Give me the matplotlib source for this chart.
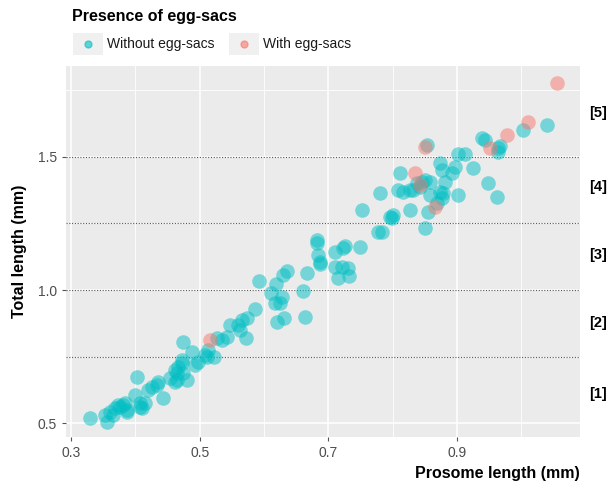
import matplotlib
matplotlib.use("Agg")
import matplotlib.pyplot as plt
from matplotlib.patches import Rectangle
from matplotlib.lines import Line2D

plt.rcParams['font.family'] = ['Liberation Sans', 'DejaVu Sans']

# Without egg-sacs
without_x = [0.330, 0.353, 0.356, 0.361, 0.365, 0.368, 0.373, 0.376, 0.381, 0.384,
             0.387, 0.387, 0.399, 0.403, 0.407, 0.407, 0.410, 0.415, 0.420, 0.426,
             0.434, 0.435, 0.443, 0.454, 0.462, 0.465, 0.466, 0.472, 0.472, 0.474,
             0.480, 0.465, 0.462, 0.474, 0.488, 0.493, 0.497, 0.508, 0.511, 0.513,
             0.522, 0.527, 0.535, 0.542, 0.547, 0.560, 0.563, 0.566, 0.573, 0.572,
             0.586, 0.592, 0.611, 0.619, 0.617, 0.625, 0.628, 0.629, 0.636, 0.620,
             0.631, 0.661, 0.664, 0.667, 0.687, 0.710, 0.721, 0.730, 0.715, 0.732,
             0.682, 0.682, 0.684, 0.687, 0.710, 0.723, 0.726, 0.749, 0.752, 0.777,
             0.783, 0.796, 0.800, 0.780, 0.811, 0.808, 0.816, 0.827, 0.838, 0.845,
             0.850, 0.858, 0.842, 0.827, 0.850, 0.855, 0.858, 0.869, 0.877, 0.873,
             0.878, 0.881, 0.873, 0.876, 0.892, 0.897, 0.901, 0.901, 0.912, 0.925,
             0.853, 0.939, 0.943, 0.964, 0.967, 0.964, 0.948, 0.962, 1.002, 1.040,
             0.831, 0.799]
without_y = [0.520, 0.531, 0.505, 0.542, 0.531, 0.557, 0.569, 0.561, 0.569, 0.576,
             0.542, 0.550, 0.606, 0.674, 0.576, 0.561, 0.557, 0.576, 0.625, 0.636,
             0.644, 0.655, 0.595, 0.670, 0.700, 0.689, 0.711, 0.726, 0.738, 0.805,
             0.663, 0.663, 0.655, 0.689, 0.767, 0.719, 0.730, 0.757, 0.749, 0.775,
             0.749, 0.820, 0.812, 0.824, 0.869, 0.869, 0.850, 0.888, 0.895, 0.820,
             0.929, 1.034, 0.989, 1.022, 0.951, 0.951, 0.974, 1.056, 1.071, 0.880,
             0.895, 0.996, 0.899, 1.064, 1.097, 1.086, 1.086, 1.082, 1.045, 1.052,
             1.187, 1.176, 1.131, 1.105, 1.142, 1.157, 1.165, 1.161, 1.300, 1.217,
             1.217, 1.274, 1.281, 1.363, 1.438, 1.375, 1.367, 1.375, 1.401, 1.405,
             1.412, 1.405, 1.386, 1.300, 1.232, 1.292, 1.356, 1.326, 1.345, 1.367,
             1.363, 1.405, 1.476, 1.450, 1.438, 1.461, 1.356, 1.509, 1.509, 1.457,
             1.543, 1.569, 1.562, 1.532, 1.539, 1.517, 1.401, 1.348, 1.600, 1.619,
             1.375, 1.270]

# With egg-sacs
with_x = [0.516, 0.850, 0.835, 0.842, 0.866, 0.951, 0.978, 1.010, 1.055]
with_y = [0.813, 1.535, 1.438, 1.393, 1.311, 1.532, 1.581, 1.630, 1.776]

x_ticks = [0.3, 0.5, 0.7, 0.9]
x_minor = [0.4, 0.6, 0.8, 1.0]
y_ticks = [0.5, 1.0, 1.5]
y_minor = [0.75, 1.25, 1.75]
class_bounds = [0.75, 1.0, 1.25, 1.5]
class_labels = ['[1]', '[2]', '[3]', '[4]', '[5]']
class_label_y = [0.61, 0.875, 1.13, 1.385, 1.665]

C_WITHOUT = '#00BFC4'
C_WITH = '#F8766D'

fig = plt.figure(figsize=(6.11, 4.84), dpi=100)
ax = fig.add_axes([66/611, 1-437/484, (580-66)/611, (437-66)/484])
ax.set_facecolor('#EBEBEB')
for s in ax.spines.values():
    s.set_visible(False)

ax.set_xlim(0.292, 1.091)
ax.set_ylim(0.449, 1.84)

for v in x_ticks:
    ax.axvline(v, color='white', lw=1.1, zorder=0)
for v in x_minor:
    ax.axvline(v, color='white', lw=0.6, zorder=0)
for v in y_ticks:
    ax.axhline(v, color='white', lw=1.1, zorder=0)
for v in y_minor:
    ax.axhline(v, color='white', lw=0.6, zorder=0)

for v in class_bounds:
    ax.axhline(v, color='#555555', lw=0.8, ls=(0, (1, 1.5)), zorder=1)

ax.scatter(without_x, without_y, s=110, color=C_WITHOUT, alpha=0.5, linewidths=0, zorder=2)
ax.scatter(with_x, with_y, s=110, color=C_WITH, alpha=0.5, linewidths=0, zorder=3)

ax.set_xticks(x_ticks)
ax.set_xticklabels(['0.3', '0.5', '0.7', '0.9'])
ax.set_yticks(y_ticks)
ax.set_yticklabels(['0.5', '1.0', '1.5'])
ax.tick_params(colors='#555555', labelcolor='#4D4D4D', labelsize=10, length=3, width=0.8)

ax.set_xlabel('Prosome length (mm)', fontsize=11.5, fontweight='bold', loc='right', labelpad=4)
ax.set_ylabel('Total length (mm)', fontsize=11.5, fontweight='bold', labelpad=8)

for lab, yv in zip(class_labels, class_label_y):
    ax.text(1.035, yv, lab, transform=ax.get_yaxis_transform(), fontsize=10.5,
            fontweight='bold', ha='center', va='center')

# Legend
fig.text(72/611, 1-17/484, 'Presence of egg-sacs', fontsize=11.5, fontweight='bold',
         ha='left', va='center')
key_w, key_h = 30/611, 22/484
for kx, col, txt, tx in [(73, C_WITHOUT, 'Without egg-sacs', 107),
                         (229, C_WITH, 'With egg-sacs', 263)]:
    fig.add_artist(Rectangle((kx/611, 1-55/484), key_w, key_h, transform=fig.transFigure,
                             facecolor='#F0F0F0', edgecolor='none'))
    fig.add_artist(Line2D([(kx+15)/611], [1-44/484], transform=fig.transFigure,
                          marker='o', markersize=5, color=col, alpha=0.6, lw=0))
    fig.text(tx/611, 1-44/484, txt, fontsize=10, ha='left', va='center', color='#1a1a1a')

fig.savefig('out.png', dpi=100)
